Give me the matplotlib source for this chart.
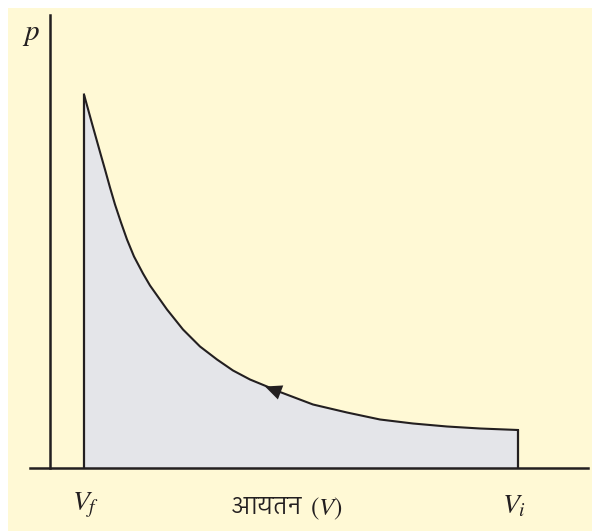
import matplotlib
matplotlib.use('Agg')
import matplotlib.pyplot as plt
from matplotlib import font_manager, ft2font
from matplotlib.patches import Rectangle

# curve (volume, pressure in arbitrary units)
volume = [34, 42, 51, 55, 60, 65, 71, 77, 84, 93, 100, 117, 133, 150, 167,
          183, 200, 217, 230, 263, 297, 330, 363, 397, 430, 468]
pressure = [373, 344, 312, 298, 280, 263, 245, 228, 211, 194, 182, 158, 138,
            121, 108, 97, 88, 81, 75.5, 63, 55, 48, 44, 41, 39, 37.5]
v_f = 34
v_i = 468
label_p = '$p$'
label_vf = '$V_f$'
label_vi = '$V_i$'
label_x = 'आयतन'
label_x_sym = '$(V)$'

yellow = '#FFF9D5'
grey = '#E4E5E9'
ink = '#231F20'

plt.rcParams['mathtext.fontset'] = 'stix'


def find_font(ch):
    # regular-weight font file with the glyph, Devanagari-named ones first
    found = []
    for f in font_manager.fontManager.ttflist:
        try:
            if ord(ch) in ft2font.FT2Font(f.fname).get_charmap():
                found.append(f)
        except Exception:
            pass
    if not found:
        return font_manager.FontProperties(family='DejaVu Sans')
    found.sort(key=lambda f: ('Devanagari' not in f.name, f.style != 'normal',
                              abs(f.weight - 400) if isinstance(f.weight, int) else 500))
    return font_manager.FontProperties(fname=found[0].fname)


deva = find_font('आ')

fig = plt.figure(figsize=(5.92, 5.31), dpi=100, facecolor='white')
fig.patches.append(Rectangle((8 / 592, 0), 1, 523 / 531, transform=fig.transFigure,
                             facecolor=yellow, edgecolor='none', zorder=-5))

ax = fig.add_axes([30 / 592, 63.5 / 531, 558 / 592, 452.5 / 531])
ax.set_facecolor('none')
ax.set_xlim(-20, 538)
ax.set_ylim(0, 452.5)

ax.fill_between(volume, pressure, 0, color=grey, lw=0)
ax.plot(volume, pressure, color=ink, lw=1.5, solid_joinstyle='round')
ax.vlines([v_f, v_i], 0, [pressure[0], pressure[-1]], color=ink, lw=1.6)

# direction arrow on the curve
ax.annotate('', xy=(215, 81), xytext=(232, 74.5),
            arrowprops=dict(arrowstyle='-|>,head_length=0.6,head_width=0.27',
                            color=ink, lw=0, mutation_scale=20,
                            shrinkA=0, shrinkB=0))

for s in ['top', 'right']:
    ax.spines[s].set_visible(False)
ax.spines['left'].set_position(('data', 0))
for s in ['left', 'bottom']:
    ax.spines[s].set_linewidth(1.8)
    ax.spines[s].set_color(ink)
ax.set_xticks([])
ax.set_yticks([])

ax.text(-19, 433, label_p, fontsize=21, ha='center', va='center', color=ink)
ax.text(36, -38, label_vf, fontsize=20, ha='center', va='center', color=ink)
ax.text(464, -38, label_vi, fontsize=20, ha='center', va='center', color=ink)
deva.set_size(17)
ax.text(217, -40, label_x, ha='center', va='center', color=ink, fontproperties=deva)
ax.text(276, -41, label_x_sym, fontsize=18, ha='center', va='center', color=ink)

plt.savefig('out.png', dpi=100, facecolor=fig.get_facecolor())
